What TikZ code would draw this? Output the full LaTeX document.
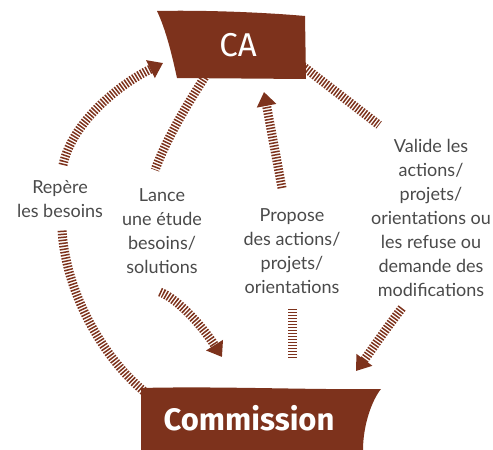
\documentclass[tikz,border=0pt]{standalone}
\usepackage{fontspec}
\setmainfont{Lato}
\newfontfamily\bannerfont{Fira Sans}
\usetikzlibrary{arrows.meta}

\definecolor{rouille}{HTML}{7D321C}
\definecolor{gristexte}{HTML}{4A4A4A}

\begin{document}
\begin{tikzpicture}[
        x=1pt, y=-1pt,
        hatch/.style={
            draw=rouille,
            line width=9pt,
            dash pattern=on 1.5pt off 1.5pt
        },
        flow/.style={
            hatch,
            -{Triangle[width=19pt, length=14pt]}
        },
        etape/.style={
            align=center,
            text=gristexte,
            font=\fontsize{18}{24}\selectfont
        },
        titre/.style={
            text=white,
            font=\bannerfont\fontsize{33}{36}\selectfont
        }
    ]
        \useasboundingbox (0,0) rectangle (493,450);

        % labels
        \node[etape] (repere)  at (60,199)  {Repère\\les besoins};
        \node[etape] (lance)   at (162,231) {Lance\\une étude\\besoins/\\solutions};
        \node[etape] (propose) at (292,251) {Propose\\des actions/\\projets/\\orientations};
        \node[etape] (valide)  at (431,218) {Valide les\\actions/\\projets/\\orientations ou\\les refuse ou\\demande des\\modifications};

        % ends of the hatched connectors
        \coordinate (repere top) at (63,165);
        \coordinate (repere bot) at (62,230);
        \coordinate (lance top)  at (155,170);
        \coordinate (lance bot)  at (160,292);
        \coordinate (propose top) at (282,188);
        \coordinate (propose bot) at (292,308);
        \coordinate (valide top) at (379,125);
        \coordinate (valide bot) at (402,308);

        \coordinate (ca left)   at (163,63);
        \coordinate (ca low)    at (208,72);
        \coordinate (ca mid)    at (264,92);
        \coordinate (ca right)  at (300,64);
        \coordinate (com left)  at (146,393);
        \coordinate (com mid)   at (222,357);
        \coordinate (com top)   at (292,358);
        \coordinate (com right) at (356,371);

        % hatched connectors
        \draw[hatch] (com left) .. controls (105,360) and (66,295) .. (repere bot);
        \draw[flow]  (repere top) .. controls (72,122) and (120,84) .. (ca left);
        \draw[hatch] (ca low) .. controls (190,100) and (168,135) .. (lance top);
        \draw[flow]  (lance bot) .. controls (180,300) and (205,330) .. (com mid);
        \draw[hatch] (com top) -- (propose bot);
        \draw[flow]  (propose top) -- (ca mid);
        \draw[hatch] (ca right) -- (valide top);
        \draw[flow]  (valide bot) .. controls (385,330) and (368,355) .. (com right);

        % banners
        \fill[rouille] (157,11) .. controls (200,10) and (260,12) .. (305,16)
            -- (306,79) -- (177,78) .. controls (172,55) and (166,30) .. (157,11) -- cycle;
        \fill[rouille] (141,388) .. controls (220,386) and (310,390) .. (381,389)
            .. controls (372,400) and (363,425) .. (363,450) -- (141,450) -- cycle;

        \node[titre] (ca) at (238,45) {CA};
        \node[titre, font=\bannerfont\bfseries\fontsize{31}{34}\selectfont] (commission) at (249,418) {Commission};
    \end{tikzpicture}
\end{document}
